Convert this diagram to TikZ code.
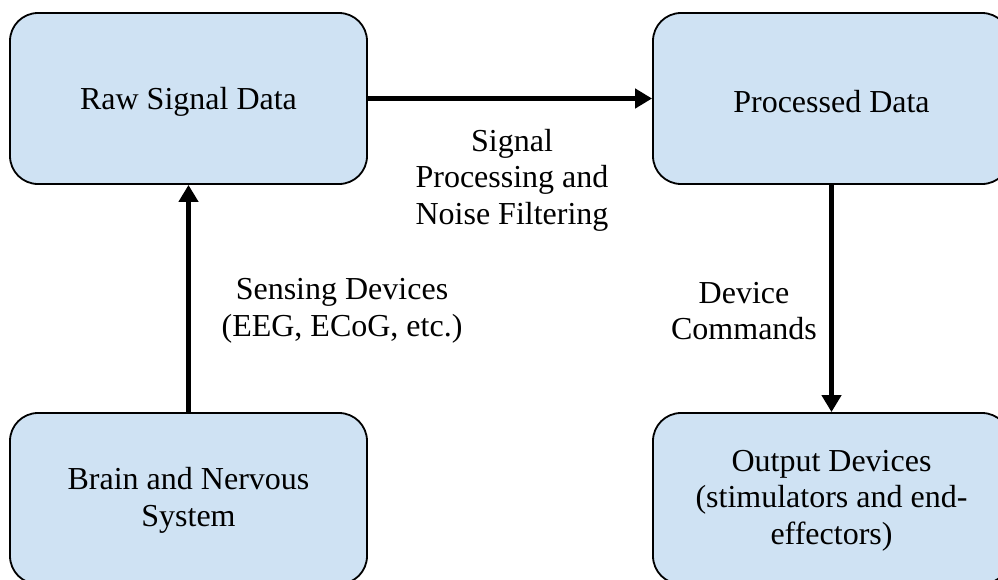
\documentclass[tikz,border=0pt]{standalone}
\usepackage{fontspec}
\setmainfont{Liberation Serif}
\usetikzlibrary{arrows.meta}
\definecolor{boxfill}{HTML}{CFE2F3}
\tikzset{
  blockbox/.style={draw=black, line width=1.8pt, fill=boxfill, rounded corners=28pt,
    minimum width=357pt, minimum height=171pt, inner sep=0pt},
  flowarrow/.style={line width=4.8pt, -{Triangle[length=17pt,width=19pt]}},
  lbl/.style={align=center, inner sep=0pt, font=\fontsize{32}{36.5}\selectfont}
}
\begin{document}
\begin{tikzpicture}[x=1pt,y=-1pt]
\useasboundingbox (0,0) rectangle (998,579);
\clip (0,0) rectangle (998,579);
\node[blockbox] (raw) at (188.5,98.5) {};
\node[blockbox] (proc) at (831.5,98.5) {};
\node[blockbox] (brain) at (188.5,498.5) {};
\node[blockbox] (out) at (831.5,498.5) {};
\node[lbl] (rawt) at ([yshift=-3pt]raw.center) {Raw Signal Data};
\node[lbl] (proct) at ([yshift=-3pt]proc.center) {Processed Data};
\node[lbl] (braint) at ([yshift=-2pt]brain.center) {Brain and Nervous\\System};
\node[lbl] (outt) at ([yshift=-2pt]out.center) {Output Devices\\(stimulators and end-\\effectors)};
\draw[flowarrow] (raw.east) -- (proc.west);
\draw[flowarrow] (brain.north) -- (raw.south);
\draw[flowarrow] (proc.south) -- (out.north);
\node[lbl] (sig) at (512,180) {Signal\\Processing and\\Noise Filtering};
\node[lbl] (sens) at (342,311) {Sensing Devices\\(EEG, ECoG, etc.)};
\node[lbl] (cmd) at (744,311) {Device\\Commands};
\end{tikzpicture}
\end{document}
